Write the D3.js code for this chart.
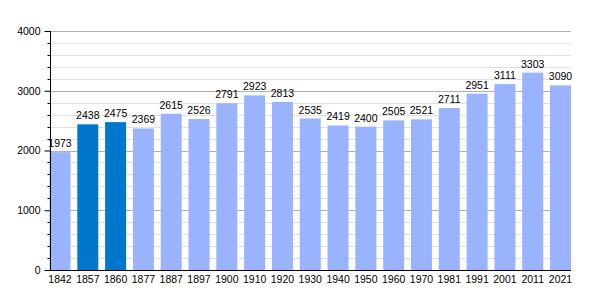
<!DOCTYPE html>
<html>
<head>
  <script src="https://d3js.org/d3.v7.min.js"></script>
  <style>
    body { margin: 0; background: #fff; }
    text { font-family: "Liberation Sans", Arial, sans-serif; fill: #000; }
  </style>
</head>
<body>
<svg id="chart" width="600" height="300"></svg>
<script>
  // data
  var years = ["1842", "1857", "1860", "1877", "1887", "1897", "1900", "1910", "1920", "1930",
               "1940", "1950", "1960", "1970", "1981", "1991", "2001", "2011", "2021"];
  var population = [1973, 2438, 2475, 2369, 2615, 2526, 2791, 2923, 2813, 2535,
                    2419, 2400, 2505, 2521, 2711, 2951, 3111, 3303, 3090];
  var highlighted = ["1857", "1860"];
  var yTicks = [0, 1000, 2000, 3000, 4000];

  var svg = d3.select("#chart");
  var plotLeft = 50, plotRight = 571, plotTop = 31, plotBottom = 270;
  var fontSize = 10.5;

  var x = d3.scaleBand()
      .domain(years)
      .range([49.5, plotRight])
      .paddingInner(0.245)
      .paddingOuter(0);

  var y = d3.scaleLinear()
      .domain([0, 4000])
      .range([plotBottom, plotTop]);

  // minor grid lines every 200
  var minor = d3.range(200, 4001, 200).filter(d => d % 1000 != 0);
  svg.append("g").selectAll("line")
      .data(minor)
      .enter().append("line")
      .attr("x1", plotLeft).attr("x2", plotRight)
      .attr("y1", d => Math.round(y(d)) + 0.5).attr("y2", d => Math.round(y(d)) + 0.5)
      .attr("stroke", "#e0e0e0");

  // major grid lines
  svg.append("g").selectAll("line")
      .data(yTicks.slice(1))
      .enter().append("line")
      .attr("x1", plotLeft).attr("x2", plotRight)
      .attr("y1", d => Math.round(y(d)) + 0.5).attr("y2", d => Math.round(y(d)) + 0.5)
      .attr("stroke", "#b0b0b0");

  // bars
  svg.append("g").selectAll("rect")
      .data(years)
      .enter().append("rect")
      .attr("x", d => x(d))
      .attr("y", (d, i) => y(population[i]))
      .attr("width", x.bandwidth())
      .attr("height", (d, i) => plotBottom - y(population[i]))
      .attr("fill", d => highlighted.includes(d) ? "#0077cc" : "#99b3ff");

  // value labels
  svg.append("g").selectAll("text")
      .data(years)
      .enter().append("text")
      .attr("x", d => x(d) + x.bandwidth() / 2)
      .attr("y", (d, i) => y(population[i]) - 5)
      .attr("text-anchor", "middle")
      .attr("font-size", fontSize)
      .text((d, i) => population[i]);

  // y axis
  var yAxis = svg.append("g")
      .attr("transform", "translate(" + (plotLeft + 0.5) + ",0)")
      .call(d3.axisLeft(y).tickValues(yTicks).tickFormat(d3.format("d")).tickSize(6).tickPadding(4));
  yAxis.selectAll(".tick text").attr("font-size", fontSize).attr("font-family", "Liberation Sans, Arial, sans-serif");
  yAxis.selectAll(".tick line").attr("stroke", "#000");
  yAxis.select(".domain").attr("stroke", "#000").attr("d", "M0," + plotTop + "V" + plotBottom);

  // minor ticks on y axis
  yAxis.append("g").selectAll("line")
      .data(minor)
      .enter().append("line")
      .attr("x1", -3).attr("x2", 0)
      .attr("y1", d => Math.round(y(d)) + 0.5).attr("y2", d => Math.round(y(d)) + 0.5)
      .attr("stroke", "#000");

  // x axis
  var xAxis = svg.append("g")
      .attr("transform", "translate(0," + (plotBottom + 0.5) + ")")
      .call(d3.axisBottom(x).tickSize(0).tickPadding(5));
  xAxis.selectAll(".tick text").attr("font-size", fontSize).attr("font-family", "Liberation Sans, Arial, sans-serif");
  xAxis.select(".domain").attr("stroke", "#000").attr("d", "M" + plotLeft + ",0H" + plotRight);
</script>
</body>
</html>
